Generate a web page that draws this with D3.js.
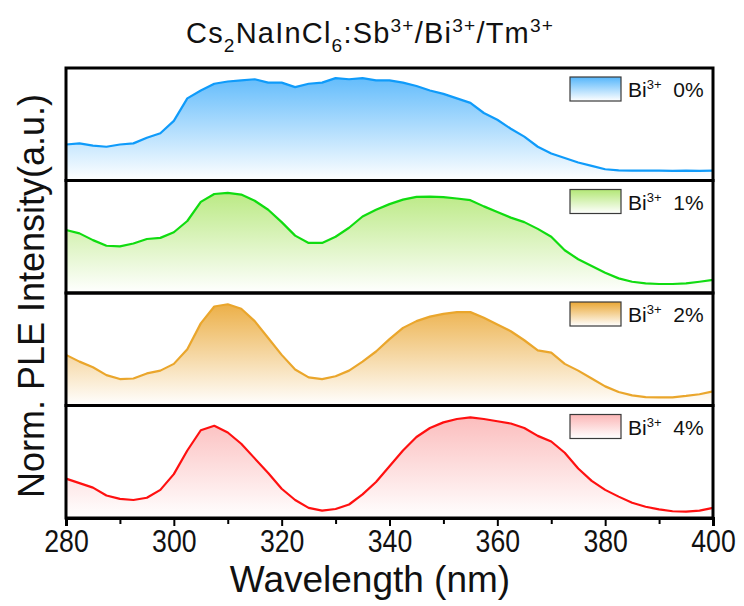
<!DOCTYPE html>
<html>
<head>
<meta charset="utf-8">
<script src="https://cdn.jsdelivr.net/npm/d3@7"></script>
<style>
  body { margin: 0; background: #fff; }
  svg { display: block; font-family: Arial, "Liberation Sans", sans-serif; }
</style>
</head>
<body>
<div id="chart"></div>
<script>
// wavelength grid (nm)
const wavelengths = [280, 282.5, 285, 287.5, 290, 292.5, 295, 297.5, 300, 302.5,
  305, 307.5, 310, 312.5, 315, 317.5, 320, 322.5, 325, 327.5,
  330, 332.5, 335, 337.5, 340, 342.5, 345, 347.5, 350, 352.5,
  355, 357.5, 360, 362.5, 365, 367.5, 370, 372.5, 375, 377.5,
  380, 382.5, 385, 387.5, 390, 392.5, 395, 397.5, 400];

// normalized PLE
const bi0 = [0.32, 0.33, 0.31, 0.30, 0.32, 0.33, 0.38, 0.42, 0.53, 0.73,
  0.80, 0.86, 0.88, 0.89, 0.90, 0.87, 0.87, 0.83, 0.86, 0.87,
  0.91, 0.90, 0.91, 0.89, 0.89, 0.87, 0.84, 0.80, 0.77, 0.73,
  0.69, 0.60, 0.54, 0.46, 0.39, 0.30, 0.24, 0.20, 0.16, 0.13,
  0.10, 0.09, 0.087, 0.087, 0.087, 0.085, 0.087, 0.086, 0.087];
const bi1 = [0.56, 0.53, 0.47, 0.42, 0.415, 0.44, 0.48, 0.49, 0.54, 0.64,
  0.81, 0.88, 0.89, 0.875, 0.82, 0.74, 0.63, 0.51, 0.445, 0.445,
  0.50, 0.58, 0.68, 0.74, 0.79, 0.83, 0.855, 0.856, 0.852, 0.84,
  0.825, 0.77, 0.72, 0.67, 0.63, 0.57, 0.50, 0.38, 0.30, 0.24,
  0.18, 0.13, 0.10, 0.085, 0.08, 0.08, 0.085, 0.10, 0.116];
const bi2 = [0.45, 0.39, 0.34, 0.27, 0.235, 0.24, 0.285, 0.31, 0.37, 0.50,
  0.73, 0.88, 0.90, 0.86, 0.75, 0.60, 0.45, 0.32, 0.25, 0.235,
  0.26, 0.31, 0.39, 0.48, 0.59, 0.69, 0.75, 0.79, 0.815, 0.83,
  0.83, 0.78, 0.72, 0.66, 0.58, 0.49, 0.47, 0.37, 0.31, 0.24,
  0.17, 0.12, 0.09, 0.075, 0.073, 0.073, 0.085, 0.10, 0.125];
const bi4 = [0.35, 0.31, 0.27, 0.20, 0.17, 0.16, 0.18, 0.25, 0.39, 0.60,
  0.78, 0.82, 0.76, 0.66, 0.53, 0.40, 0.26, 0.16, 0.09, 0.065,
  0.08, 0.12, 0.21, 0.32, 0.46, 0.60, 0.72, 0.80, 0.85, 0.88,
  0.895, 0.88, 0.86, 0.84, 0.80, 0.73, 0.68, 0.58, 0.44, 0.33,
  0.25, 0.19, 0.135, 0.10, 0.077, 0.06, 0.056, 0.065, 0.09];

const legendLabels = ['0%', '1%', '2%', '4%'];
const lineColors = ['#0f9bfa', '#10dc10', '#eaa62c', '#ff1010'];
const fillColors = ['#55b6fb', '#b3e776', '#eaa734', '#fbb6b6'];
const xTicks = [280, 300, 320, 340, 360, 380, 400];

const seriesData = [bi0, bi1, bi2, bi4];

const width = 744, height = 606;
const margin = { top: 68, right: 31, bottom: 88, left: 66 };
const plotW = width - margin.left - margin.right;
const plotH = height - margin.top - margin.bottom;
const panelH = plotH / seriesData.length;

const svg = d3.select('#chart').append('svg')
    .attr('width', width)
    .attr('height', height);

const defs = svg.append('defs');

const x = d3.scaleLinear().domain([280, 400]).range([margin.left, margin.left + plotW]);

// rich text helper: parts = [[text, 'n'|'sub'|'sup'], ...]
function richText(sel, parts, size, small) {
    let shift = 0;
    parts.forEach(p => {
        let target = p[1] === 'sub' ? size * 0.3 : p[1] === 'sup' ? -size * 0.38 : 0;
        sel.append('tspan')
            .attr('dy', target - shift)
            .attr('font-size', p[1] === 'n' ? size : size * small)
            .text(p[0]);
        shift = target;
    });
}

seriesData.forEach((vals, i) => {
    const top = margin.top + i * panelH;
    const y = d3.scaleLinear().domain([0, 1]).range([top + panelH, top]);

    const grad = defs.append('linearGradient')
        .attr('id', 'g' + i)
        .attr('gradientUnits', 'userSpaceOnUse')
        .attr('x1', 0).attr('x2', 0)
        .attr('y1', top).attr('y2', top + panelH);
    grad.append('stop').attr('offset', 0).attr('stop-color', fillColors[i]);
    grad.append('stop').attr('offset', 1).attr('stop-color', '#ffffff');

    const data = wavelengths.map((w, k) => [w, vals[k]]);

    svg.append('path')
        .datum(data)
        .attr('fill', `url(#g${i})`)
        .attr('d', d3.area().x(d => x(d[0])).y0(top + panelH).y1(d => y(d[1])));

    svg.append('path')
        .datum(data)
        .attr('fill', 'none')
        .attr('stroke', lineColors[i])
        .attr('stroke-width', 2.2)
        .attr('stroke-linejoin', 'round')
        .attr('d', d3.line().x(d => x(d[0])).y(d => y(d[1])));

    // legend
    const lgrad = defs.append('linearGradient')
        .attr('id', 'lg' + i)
        .attr('x1', 0).attr('x2', 0).attr('y1', 0).attr('y2', 1);
    lgrad.append('stop').attr('offset', 0).attr('stop-color', fillColors[i]);
    lgrad.append('stop').attr('offset', 1).attr('stop-color', '#ffffff');

    svg.append('rect')
        .attr('x', 570).attr('y', top + 9)
        .attr('width', 51).attr('height', 24)
        .attr('fill', `url(#lg${i})`)
        .attr('stroke', '#3a3a3a')
        .attr('stroke-width', 1.2);

    const lt = svg.append('text')
        .attr('x', 628).attr('y', top + 29)
        .attr('fill', '#111');
    richText(lt, [['Bi', 'n'], ['3+', 'sup'], ['\u00a0\u00a0' + legendLabels[i], 'n']], 21, 0.62);

    // panel frame
    svg.append('rect')
        .attr('x', margin.left).attr('y', top)
        .attr('width', plotW).attr('height', panelH)
        .attr('fill', 'none')
        .attr('stroke', '#000')
        .attr('stroke-width', 3);
});

// x axis
const xAxis = d3.axisBottom(x)
    .tickValues(d3.range(280, 401, 10))
    .tickSize(8)
    .tickFormat(d => xTicks.includes(d) ? d : '');

const gx = svg.append('g')
    .attr('transform', `translate(0,${margin.top + plotH})`)
    .call(xAxis);
gx.select('.domain').attr('stroke-width', 3);
gx.selectAll('.tick line')
    .attr('stroke-width', 2)
    .attr('y2', d => xTicks.includes(d) ? 8 : 6);
gx.selectAll('.tick text')
    .filter(d => !xTicks.includes(d)).remove();
gx.selectAll('.tick text')
    .attr('font-size', 31)
    .attr('font-family', 'Arial, "Liberation Sans", sans-serif')
    .attr('fill', '#111')
    .attr('y', 12)
    .attr('dy', '0.71em')
    .attr('transform', 'scale(0.86,1)');

svg.append('text')
    .attr('x', 370)
    .attr('y', 592)
    .attr('text-anchor', 'middle')
    .attr('font-size', 37)
    .attr('fill', '#111')
    .text('Wavelength (nm)');

svg.append('text')
    .attr('transform', `translate(44,${margin.top + plotH / 2 + 3}) rotate(-90)`)
    .attr('text-anchor', 'middle')
    .attr('font-size', 36)
    .attr('fill', '#111')
    .text('Norm. PLE Intensity(a.u.)');

// title
const title = svg.append('text')
    .attr('x', 186)
    .attr('y', 43)
    .attr('letter-spacing', 1.2)
    .attr('fill', '#111');
richText(title, [['Cs', 'n'], ['2', 'sub'], ['NaInCl', 'n'], ['6', 'sub'], [':Sb', 'n'],
    ['3+', 'sup'], ['/Bi', 'n'], ['3+', 'sup'], ['/Tm', 'n'], ['3+', 'sup']], 29, 0.66);
</script>
</body>
</html>
